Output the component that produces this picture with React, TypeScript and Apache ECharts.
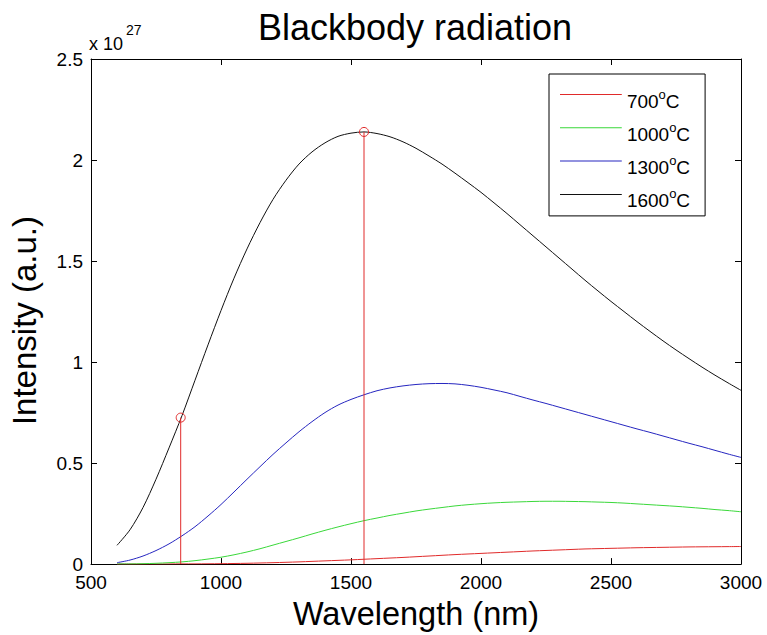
import React, { useEffect, useRef } from "react";
import * as echarts from "echarts";

// Wavelength samples (nm)
const wavelengths = [
  600, 650, 700, 750, 800, 850, 900, 950, 1000, 1050, 1100, 1150, 1200, 1250,
  1300, 1350, 1400, 1450, 1500, 1550, 1600, 1650, 1700, 1750, 1800, 1850, 1900,
  1950, 2000, 2050, 2100, 2150, 2200, 2250, 2300, 2350, 2400, 2450, 2500, 2550,
  2600, 2650, 2700, 2750, 2800, 2850, 2900, 2950, 3000,
];

// Intensity values, in units of 1e27 (a.u.)
const intensity700 = [
  0, 0, 0, 0, 0.0005, 0.001, 0.001, 0.0015, 0.002, 0.003, 0.004, 0.0055, 0.007,
  0.009, 0.011, 0.0135, 0.016, 0.0185, 0.021, 0.024, 0.027, 0.03, 0.033, 0.0365,
  0.04, 0.0435, 0.047, 0.05, 0.053, 0.056, 0.059, 0.062, 0.065, 0.0675, 0.07,
  0.0725, 0.075, 0.0765, 0.078, 0.0795, 0.081, 0.082, 0.083, 0.084, 0.085,
  0.0855, 0.086, 0.0865, 0.087,
];
const intensity1000 = [
  0.001, 0.001, 0.002, 0.004, 0.007, 0.011, 0.017, 0.025, 0.034, 0.046, 0.06,
  0.076, 0.094, 0.112, 0.13, 0.149, 0.167, 0.184, 0.2, 0.215, 0.228, 0.241,
  0.252, 0.263, 0.272, 0.28, 0.288, 0.294, 0.299, 0.303, 0.306, 0.308, 0.31,
  0.311, 0.311, 0.31, 0.309, 0.307, 0.305, 0.302, 0.298, 0.294, 0.29, 0.286,
  0.281, 0.276, 0.27, 0.265, 0.259,
];
const intensity1300 = [
  0.007, 0.02, 0.04, 0.067, 0.1, 0.14, 0.185, 0.238, 0.295, 0.357, 0.42, 0.482,
  0.543, 0.6, 0.655, 0.705, 0.75, 0.787, 0.815, 0.838, 0.858, 0.872, 0.882,
  0.889, 0.893, 0.894, 0.892, 0.885, 0.875, 0.862, 0.848, 0.83, 0.812, 0.795,
  0.777, 0.759, 0.741, 0.723, 0.705, 0.687, 0.669, 0.652, 0.634, 0.616, 0.598,
  0.581, 0.563, 0.545, 0.528,
];
const intensity1600 = [
  0.093, 0.17, 0.28, 0.42, 0.575, 0.735, 0.91, 1.085, 1.255, 1.415, 1.56, 1.69,
  1.805, 1.9, 1.98, 2.04, 2.085, 2.117, 2.133, 2.139, 2.131, 2.115, 2.09, 2.058,
  2.02, 1.98, 1.935, 1.888, 1.84, 1.788, 1.735, 1.68, 1.625, 1.57, 1.515, 1.46,
  1.405, 1.352, 1.3, 1.25, 1.2, 1.152, 1.105, 1.06, 1.017, 0.975, 0.935, 0.897,
  0.86,
];

const seriesNames = ["700°C", "1000°C", "1300°C", "1600°C"];
const seriesColors = ["#e02a2a", "#3ad83a", "#2626c0", "#111111"];

// Stem markers (wavelength nm, intensity 1e27)
const stemWavelengths = [845, 1550];
const stemValues = [0.725, 2.139];

const xMin = 500;
const xMax = 3000;
const xStep = 500;
const yMin = 0;
const yMax = 2.5;
const yStep = 0.5;

const FONT = "'Liberation Sans', Arial, Helvetica, sans-serif";

export default function App() {
  const ref = useRef<HTMLDivElement>(null);

  useEffect(() => {
    document.body.style.margin = "0";
    if (!ref.current) return;
    const chart = echarts.init(ref.current, undefined, { renderer: "svg" });

    const allValues = [intensity700, intensity1000, intensity1300, intensity1600];

    const curveSeries = allValues.map((vals, si) => ({
      name: seriesNames[si],
      type: "line",
      data: wavelengths.map((w, i) => [w, vals[i]]),
      smooth: 0.3,
      symbol: "none",
      showSymbol: false,
      lineStyle: { color: seriesColors[si], width: 1 },
      itemStyle: { color: seriesColors[si] },
      z: 2,
    }));

    const stemSeries = stemWavelengths.map((w, i) => ({
      name: "stem" + i,
      type: "line",
      data: [
        { value: [w, 0], symbol: "none" },
        { value: [w, stemValues[i]], symbol: "circle", symbolSize: 9 },
      ],
      showSymbol: true,
      lineStyle: { color: "#e02a2a", width: 1 },
      itemStyle: {
        color: "rgba(0,0,0,0)",
        borderColor: "#e02a2a",
        borderWidth: 1,
      },
      z: 3,
    }));

    const axisLineStyle = { color: "#000", width: 1 };
    const labelStyle = { color: "#000", fontSize: 19, fontFamily: FONT };

    const option = {
      animation: false,
      backgroundColor: "#fff",
      title: {
        text: "Blackbody radiation",
        left: 410,
        textAlign: "center",
        top: 4,
        textStyle: {
          fontSize: 36,
          fontWeight: "normal",
          color: "#000",
          fontFamily: FONT,
        },
      },
      legend: {
        data: seriesNames,
        orient: "vertical",
        left: 549,
        top: 74,
        // a 1px line drawn at the top of the icon box, so the line sits above the text centre
        icon: "path://M0,0H62V1H0Z M0,14H0.05V14.05H0Z",
        itemWidth: 62,
        itemHeight: 14,
        itemGap: 10.3,
        padding: [13.5, 15, 5.5, 11],
        borderColor: "#000",
        borderWidth: 1,
        backgroundColor: "#fff",
        selectedMode: false,
        formatter: (name: string) => {
          const num = name.replace("°C", "");
          return "{b|" + num + "}{s|o}{b|C}";
        },
        textStyle: {
          color: "#000",
          fontFamily: FONT,
          fontSize: 19,
          rich: {
            b: {
              fontSize: 19,
              fontFamily: FONT,
              color: "#000",
            },
            s: {
              fontSize: 13,
              fontFamily: FONT,
              color: "#000",
              padding: [0, 0, 14, 0],
            },
          },
        },
      },
      grid: { left: 90, right: 26, top: 59, bottom: 66 },
      xAxis: [
        {
          type: "value",
          position: "bottom",
          min: xMin,
          max: xMax,
          interval: xStep,
          axisLine: { show: true, onZero: false, lineStyle: axisLineStyle },
          axisTick: { show: true, inside: true, length: 6, lineStyle: axisLineStyle },
          axisLabel: { ...labelStyle, margin: 9, formatter: (v: number) => String(v) },
          splitLine: { show: false },
          name: "Wavelength (nm)",
          nameLocation: "middle",
          nameGap: 29,
          nameTextStyle: { fontSize: 32.5, color: "#000", fontFamily: FONT },
        },
        {
          type: "value",
          position: "top",
          min: xMin,
          max: xMax,
          interval: xStep,
          axisLine: { show: true, onZero: false, lineStyle: axisLineStyle },
          axisTick: { show: true, inside: true, length: 6, lineStyle: axisLineStyle },
          axisLabel: { show: false },
          splitLine: { show: false },
        },
      ],
      yAxis: [
        {
          type: "value",
          position: "left",
          min: yMin,
          max: yMax,
          interval: yStep,
          axisLine: { show: true, onZero: false, lineStyle: axisLineStyle },
          axisTick: { show: true, inside: true, length: 6, lineStyle: axisLineStyle },
          axisLabel: { ...labelStyle, margin: 8, lineHeight: 15 },
          splitLine: { show: false },
          name: "Intensity (a.u.)",
          nameLocation: "middle",
          nameGap: 50,
          nameTextStyle: {
            fontSize: 33,
            color: "#000",
            fontFamily: FONT,
            padding: [0, 18, 0, 0],
          },
        },
        {
          type: "value",
          position: "right",
          min: yMin,
          max: yMax,
          interval: yStep,
          axisLine: { show: true, onZero: false, lineStyle: axisLineStyle },
          axisTick: { show: true, inside: true, length: 6, lineStyle: axisLineStyle },
          axisLabel: { show: false },
          splitLine: { show: false },
        },
      ],
      graphic: [
        {
          type: "text",
          x: 89,
          y: 44,
          style: {
            text: "x 10",
            fontSize: 18,
            fontFamily: FONT,
            fill: "#000",
            align: "left",
            verticalAlign: "middle",
          },
        },
        {
          type: "text",
          x: 126,
          y: 30,
          style: {
            text: "27",
            fontSize: 14,
            fontFamily: FONT,
            fill: "#000",
            align: "left",
            verticalAlign: "middle",
          },
        },
      ],
      series: [...curveSeries, ...stemSeries],
    };

    chart.setOption(option as any);
    return () => chart.dispose();
  }, []);

  return <div ref={ref} style={{ width: 767, height: 635 }} />;
}
